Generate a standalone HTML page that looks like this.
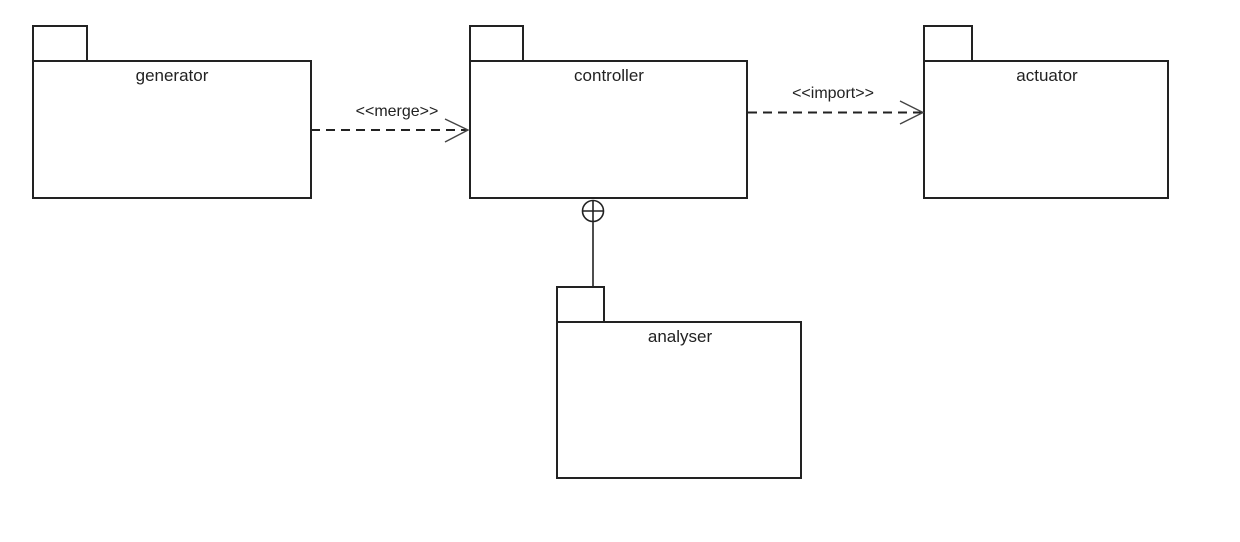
<!DOCTYPE html>
<html><head><meta charset="utf-8"><style>
html,body{margin:0;padding:0;background:#fff;}
svg{display:block;}
text{font-family:"Liberation Sans",Arial,sans-serif;font-size:17px;fill:#222;}
</style></head><body>
<svg width="1240" height="542" viewBox="0 0 1240 542" xmlns="http://www.w3.org/2000/svg">
<g fill="none" stroke="#222" stroke-width="2">
<rect x="33" y="26" width="54" height="35"/>
<rect x="33" y="61" width="278" height="137"/>
<rect x="470" y="26" width="53" height="35"/>
<rect x="470" y="61" width="277" height="137"/>
<rect x="924" y="26" width="48" height="35"/>
<rect x="924" y="61" width="244" height="137"/>
<rect x="557" y="287" width="47" height="35"/>
<rect x="557" y="322" width="244" height="156"/>
<line x1="311" y1="130" x2="467" y2="130" stroke-dasharray="9,6"/>
<polyline points="445,119 468,130 445,142" stroke="#444" stroke-width="1.4"/>
<line x1="748" y1="112.5" x2="922" y2="112.5" stroke-dasharray="9,6"/>
<polyline points="900,101 923,112.5 900,124" stroke="#444" stroke-width="1.4"/>
<circle cx="593" cy="211" r="10.5" stroke-width="1.6"/>
<line x1="582.5" y1="211" x2="603.5" y2="211" stroke-width="1.6"/>
<line x1="593" y1="200.5" x2="593" y2="287" stroke-width="1.6"/>
</g>
<text x="172" y="81" text-anchor="middle">generator</text>
<text x="609" y="81" text-anchor="middle">controller</text>
<text x="1047" y="81" text-anchor="middle">actuator</text>
<text x="680" y="342" text-anchor="middle">analyser</text>
<text x="397" y="116" text-anchor="middle" style="font-size:16px">&lt;&lt;merge&gt;&gt;</text>
<text x="833" y="98" text-anchor="middle" style="font-size:16px">&lt;&lt;import&gt;&gt;</text>
</svg>
</body></html>
